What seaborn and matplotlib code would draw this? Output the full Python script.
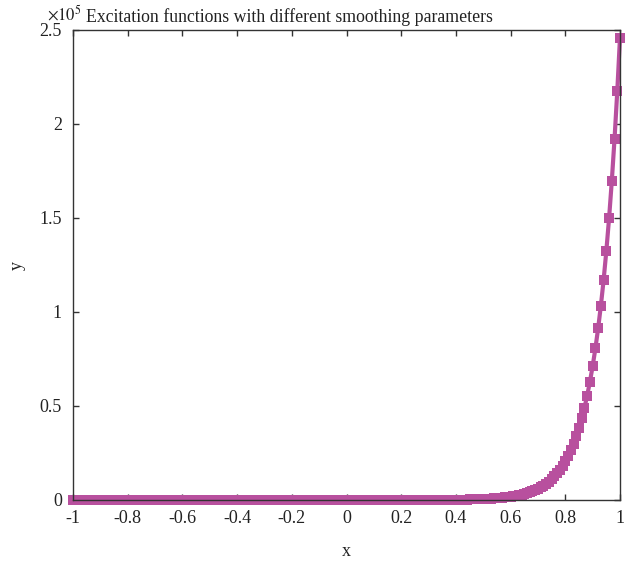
import matplotlib
matplotlib.use("Agg")
import matplotlib.pyplot as plt
import seaborn as sns
import pandas as pd

# ---------------- data ----------------
x_values = [
    -1.00, -0.99, -0.98, -0.97, -0.96, -0.95, -0.94, -0.93, -0.92, -0.91,
    -0.90, -0.89, -0.88, -0.87, -0.86, -0.85, -0.84, -0.83, -0.82, -0.81,
    -0.80, -0.79, -0.78, -0.77, -0.76, -0.75, -0.74, -0.73, -0.72, -0.71,
    -0.70, -0.69, -0.68, -0.67, -0.66, -0.65, -0.64, -0.63, -0.62, -0.61,
    -0.60, -0.59, -0.58, -0.57, -0.56, -0.55, -0.54, -0.53, -0.52, -0.51,
    -0.50, -0.49, -0.48, -0.47, -0.46, -0.45, -0.44, -0.43, -0.42, -0.41,
    -0.40, -0.39, -0.38, -0.37, -0.36, -0.35, -0.34, -0.33, -0.32, -0.31,
    -0.30, -0.29, -0.28, -0.27, -0.26, -0.25, -0.24, -0.23, -0.22, -0.21,
    -0.20, -0.19, -0.18, -0.17, -0.16, -0.15, -0.14, -0.13, -0.12, -0.11,
    -0.10, -0.09, -0.08, -0.07, -0.06, -0.05, -0.04, -0.03, -0.02, -0.01,
    0.00, 0.01, 0.02, 0.03, 0.04, 0.05, 0.06, 0.07, 0.08, 0.09,
    0.10, 0.11, 0.12, 0.13, 0.14, 0.15, 0.16, 0.17, 0.18, 0.19,
    0.20, 0.21, 0.22, 0.23, 0.24, 0.25, 0.26, 0.27, 0.28, 0.29,
    0.30, 0.31, 0.32, 0.33, 0.34, 0.35, 0.36, 0.37, 0.38, 0.39,
    0.40, 0.41, 0.42, 0.43, 0.44, 0.45, 0.46, 0.47, 0.48, 0.49,
    0.50, 0.51, 0.52, 0.53, 0.54, 0.55, 0.56, 0.57, 0.58, 0.59,
    0.60, 0.61, 0.62, 0.63, 0.64, 0.65, 0.66, 0.67, 0.68, 0.69,
    0.70, 0.71, 0.72, 0.73, 0.74, 0.75, 0.76, 0.77, 0.78, 0.79,
    0.80, 0.81, 0.82, 0.83, 0.84, 0.85, 0.86, 0.87, 0.88, 0.89,
    0.90, 0.91, 0.92, 0.93, 0.94, 0.95, 0.96, 0.97, 0.98, 0.99,
    1.00,
]

# y in units of 1e5
y_values = [
    0.0, 0.0, 0.0, 0.0, 0.0, 0.0, 0.0, 0.0, 0.0, 0.0,
    0.0, 0.0, 0.0, 0.0, 0.0, 0.0, 0.0, 0.0, 0.0, 0.0,
    0.0, 0.0, 0.0, 0.0, 0.0, 0.0, 0.0, 0.0, 0.0, 0.0,
    0.0, 0.0, 0.0, 0.0, 0.0, 0.0, 0.0, 0.0, 0.0, 0.0,
    0.0, 0.0, 0.0, 0.0, 0.0, 0.0, 0.0, 0.0, 0.0, 0.0,
    0.0, 0.0, 0.0, 0.0, 0.0, 0.0, 0.0, 0.0, 0.0, 0.0,
    0.0, 0.0, 0.0, 0.0, 0.0, 0.0, 0.0, 0.0, 0.0, 0.0,
    0.0, 0.0, 0.0, 0.0, 0.0, 0.0, 0.0, 0.0, 0.0, 0.0,
    0.0, 0.0, 0.0, 0.0, 0.0, 0.0, 0.0, 0.0, 0.0, 0.0,
    0.0, 0.0, 0.0, 0.0, 0.0, 0.0, 0.0, 0.0, 0.0, 0.0,
    0.0, 0.0, 0.0, 0.0, 0.0, 0.0, 0.0, 0.0, 0.0, 0.0,
    0.0000, 0.0000, 0.0001, 0.0001, 0.0001, 0.0001, 0.0001, 0.0001, 0.0001, 0.0001,
    0.0001, 0.0002, 0.0002, 0.0002, 0.0002, 0.0002, 0.0003, 0.0003, 0.0003, 0.0004,
    0.0004, 0.0005, 0.0005, 0.0006, 0.0007, 0.0008, 0.0009, 0.0010, 0.0011, 0.0012,
    0.0014, 0.0016, 0.0019, 0.0021, 0.0024, 0.0027, 0.0030, 0.0034, 0.0039, 0.0044,
    0.0050, 0.0057, 0.0064, 0.0072, 0.0082, 0.0093, 0.0105, 0.0119, 0.0135, 0.0153,
    0.0173, 0.0196, 0.0221, 0.0251, 0.0284, 0.0321, 0.0363, 0.0411, 0.0466, 0.0527,
    0.0597, 0.0675, 0.0764, 0.0865, 0.0980, 0.1109, 0.1255, 0.1421, 0.1608, 0.1821,
    0.2061, 0.2333, 0.2641, 0.2990, 0.3384, 0.3831, 0.4337, 0.4909, 0.5557, 0.6291,
    0.7121, 0.8061, 0.9125, 1.0330, 1.1690, 1.3240, 1.4980, 1.6960, 1.9200, 2.1730,
    2.4600,
]

x_ticks = [-1, -0.8, -0.6, -0.4, -0.2, 0, 0.2, 0.4, 0.6, 0.8, 1]
x_tick_labels = ["-1", "-0.8", "-0.6", "-0.4", "-0.2", "0", "0.2", "0.4", "0.6", "0.8", "1"]
y_ticks = [0, 0.5, 1, 1.5, 2, 2.5]
y_tick_labels = ["0", "0.5", "1", "1.5", "2", "2.5"]

title_text = "Excitation functions with different smoothing parameters"
multiplier_text = r"$\times10^{5}$"
x_label = "x"
y_label = "y"

# ---------------- style ----------------
sns.set_style("ticks")
plt.rcParams['font.family'] = ['Liberation Serif', 'DejaVu Serif']
plt.rcParams['mathtext.fontset'] = 'stix'
plt.rcParams['axes.unicode_minus'] = False

LINE_COLOR = "#B8509E"
AXIS_COLOR = "#333333"
TEXT_COLOR = "#222222"
FS = 13

W, H = 636, 561
fig = plt.figure(figsize=(W / 100, H / 100), dpi=100)
ax = fig.add_axes([73 / W, 1 - 500 / H, (620 - 73) / W, (500 - 30) / H])

df = pd.DataFrame({"x": x_values, "y": y_values})
sns.lineplot(data=df, x="x", y="y", ax=ax, color=LINE_COLOR, linewidth=3.0,
             marker="s", markersize=7.8, markeredgewidth=0,
             estimator=None, sort=False, legend=False)
for ln in ax.lines:
    ln.set_clip_on(False)
    ln.set_zorder(2)

ax.set_xlim(-1, 1)
ax.set_ylim(0, 2.5)
ax.set_xticks(x_ticks)
ax.set_xticklabels(x_tick_labels)
ax.set_yticks(y_ticks)
ax.set_yticklabels(y_tick_labels)

for sp in ax.spines.values():
    sp.set_visible(True)
    sp.set_color(AXIS_COLOR)
    sp.set_linewidth(1.0)
    sp.set_zorder(3)

ax.tick_params(direction="in", top=True, right=True, length=4, width=1,
               color=AXIS_COLOR, labelsize=FS, labelcolor=TEXT_COLOR, pad=7)
ax.tick_params(axis="y", pad=8)

ax.set_xlabel(x_label, fontsize=FS, color=TEXT_COLOR, labelpad=12)
ax.set_ylabel(y_label, fontsize=FS, color=TEXT_COLOR, labelpad=10)

fig.text(86 / W, 1 - 22 / H, title_text, ha="left", va="baseline",
         fontsize=12.8, color=TEXT_COLOR)
fig.text(47 / W, 1 - 20 / H, multiplier_text, ha="left", va="baseline",
         fontsize=12, color=TEXT_COLOR)

fig.savefig("out.png", dpi=100, facecolor="white")
